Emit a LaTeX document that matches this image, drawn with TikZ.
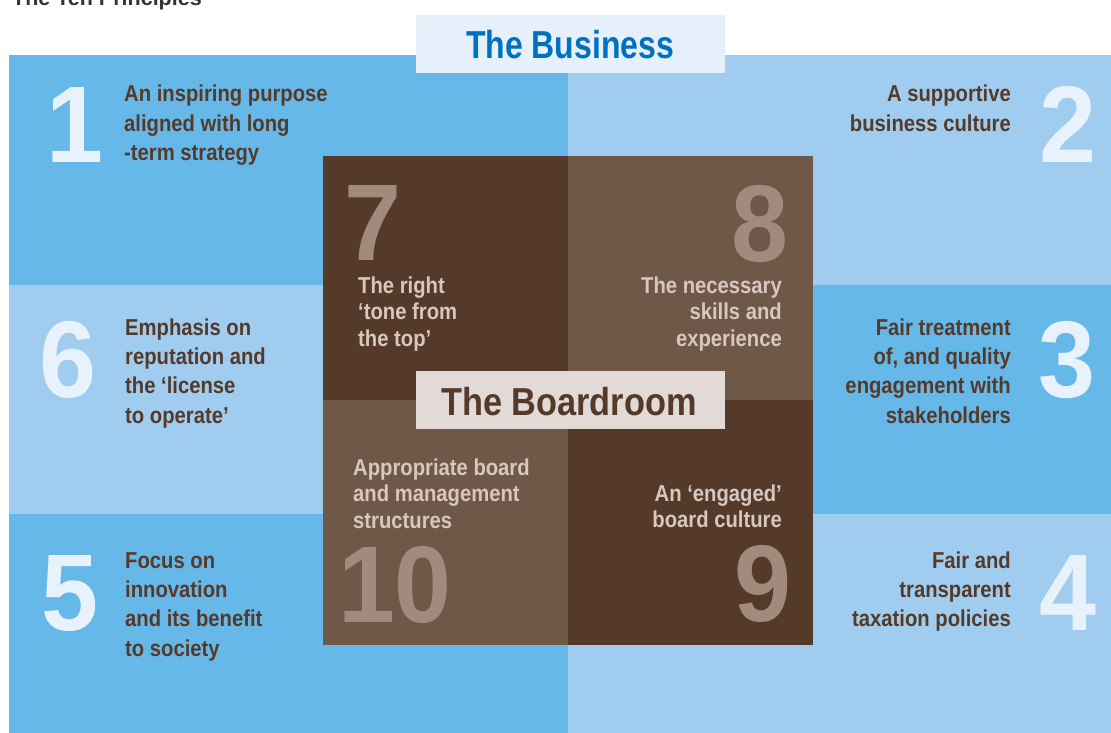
\documentclass[tikz,border=0pt]{standalone}
\usepackage{fontspec}
\setmainfont{Liberation Sans}
\newfontfamily\fcA{Liberation Sans}[FakeStretch=0.88]
\newfontfamily\fcB{Liberation Sans}[FakeStretch=0.82]
\newfontfamily\fcD{Liberation Sans}[FakeStretch=0.94]
\definecolor{blueD}{RGB}{102,184,232}
\definecolor{blueL}{RGB}{160,205,239}
\definecolor{brownD}{RGB}{85,58,42}
\definecolor{brownM}{RGB}{112,88,72}
\definecolor{digBlue}{RGB}{232,242,252}
\definecolor{digBrown}{RGB}{160,139,125}
\definecolor{txtBoard}{RGB}{214,200,192}
\definecolor{busBox}{RGB}{230,240,250}
\definecolor{busTxt}{RGB}{0,112,192}
\definecolor{boardBox}{RGB}{226,218,215}
\definecolor{topGray}{RGB}{51,51,51}
\newcommand\lns[2]{\begin{tabular}[t]{@{}#1@{}}#2\end{tabular}}
\tikzset{
  bodyL/.style={anchor=base west, inner sep=0pt, text=brownD, font=\fcA\bfseries\fontsize{23bp}{29.4bp}\selectfont},
  bodyR/.style={bodyL, anchor=base east},
  boardL/.style={anchor=base west, inner sep=0pt, text=txtBoard, font=\fcA\bfseries\fontsize{23bp}{26.7bp}\selectfont},
  boardR/.style={boardL, anchor=base east},
  bigdigit/.style={anchor=base, inner sep=0pt, text=digBlue, font=\fcD\bfseries\fontsize{109bp}{109bp}\selectfont},
  brdigit/.style={bigdigit, text=digBrown},
  titlebox/.style={minimum width=309bp, minimum height=58bp, inner sep=0pt, anchor=north west}
}
\begin{document}
\begin{tikzpicture}[x=1bp,y=-1bp]
\useasboundingbox (0,0) rectangle (1111,733);
% top caption (cut off)
\node[anchor=base west, inner sep=0pt, text=topGray, font=\bfseries\fontsize{21.5bp}{24bp}\selectfont] (cap) at (12,5.5) {The Ten Principles};
% business background
\fill[blueD] (9,55) rectangle (568,285);
\fill[blueL] (9,285) rectangle (568,514);
\fill[blueD] (9,514) rectangle (568,733);
\fill[blueL] (568,55) rectangle (1111,285);
\fill[blueD] (568,285) rectangle (1111,514);
\fill[blueL] (568,514) rectangle (1111,733);
% boardroom quadrants
\fill[brownD] (323,156) rectangle (568,399.5);
\fill[brownM] (568,156) rectangle (812.5,399.5);
\fill[brownM] (323,399.5) rectangle (568,645);
\fill[brownD] (568,399.5) rectangle (812.5,645);
% titles
\node[titlebox, fill=busBox] (busbox) at (416,15) {};
\node[anchor=base, inner sep=0pt, text=busTxt, font=\fcB\bfseries\fontsize{39bp}{40bp}\selectfont] (bus) at (570,58.3) {The Business};
\node[titlebox, fill=boardBox] (brdbox) at (416,371) {};
\node[anchor=base, inner sep=0pt, text=brownD, font=\fcA\bfseries\fontsize{39bp}{40bp}\selectfont] (brd) at (569,415) {The Boardroom};
% digits on blue
\node[bigdigit] (d1) at (75,163) {1};
\node[bigdigit] (d2) at (1067.5,163) {2};
\node[bigdigit] (d6) at (68,397) {6};
\node[bigdigit] (d3) at (1066.5,397) {3};
\node[bigdigit] (d5) at (70,630) {5};
\node[bigdigit] (d4) at (1068,630) {4};
% digits on brown
\node[brdigit] (d7) at (373,260) {7};
\node[brdigit] (d8) at (760,261) {8};
\node[brdigit] (d10) at (395,622) {10};
\node[brdigit] (d9) at (762.5,621) {9};
% business texts
\node[bodyL] (t1) at (124,101.7) {\lns{l}{An inspiring purpose\\aligned with long\\-term strategy}};
\node[bodyR] (t2) at (1011,101.7) {\lns{r}{A supportive\\business culture}};
\node[bodyL] (t6) at (125,335) {\lns{l}{Emphasis on\\reputation and\\the ‘license\\to operate’}};
\node[bodyR] (t3) at (1011,335) {\lns{r}{Fair treatment\\of, and quality\\engagement with\\stakeholders}};
\node[bodyL] (t5) at (125,568) {\lns{l}{Focus on\\innovation\\and its benefit\\to society}};
\node[bodyR] (t4) at (1011,568) {\lns{r}{Fair and\\transparent\\taxation policies}};
% boardroom texts
\node[boardL] (t7) at (358,293) {\lns{l}{The right\\‘tone from\\the top’}};
\node[boardR] (t8) at (782,293) {\lns{r}{The necessary\\skills and\\experience}};
\node[boardL] (t10) at (353,475) {\lns{l}{Appropriate board\\and management\\structures}};
\node[boardR] (t9) at (782,501) {\lns{r}{An ‘engaged’\\board culture}};
\end{tikzpicture}
\end{document}
